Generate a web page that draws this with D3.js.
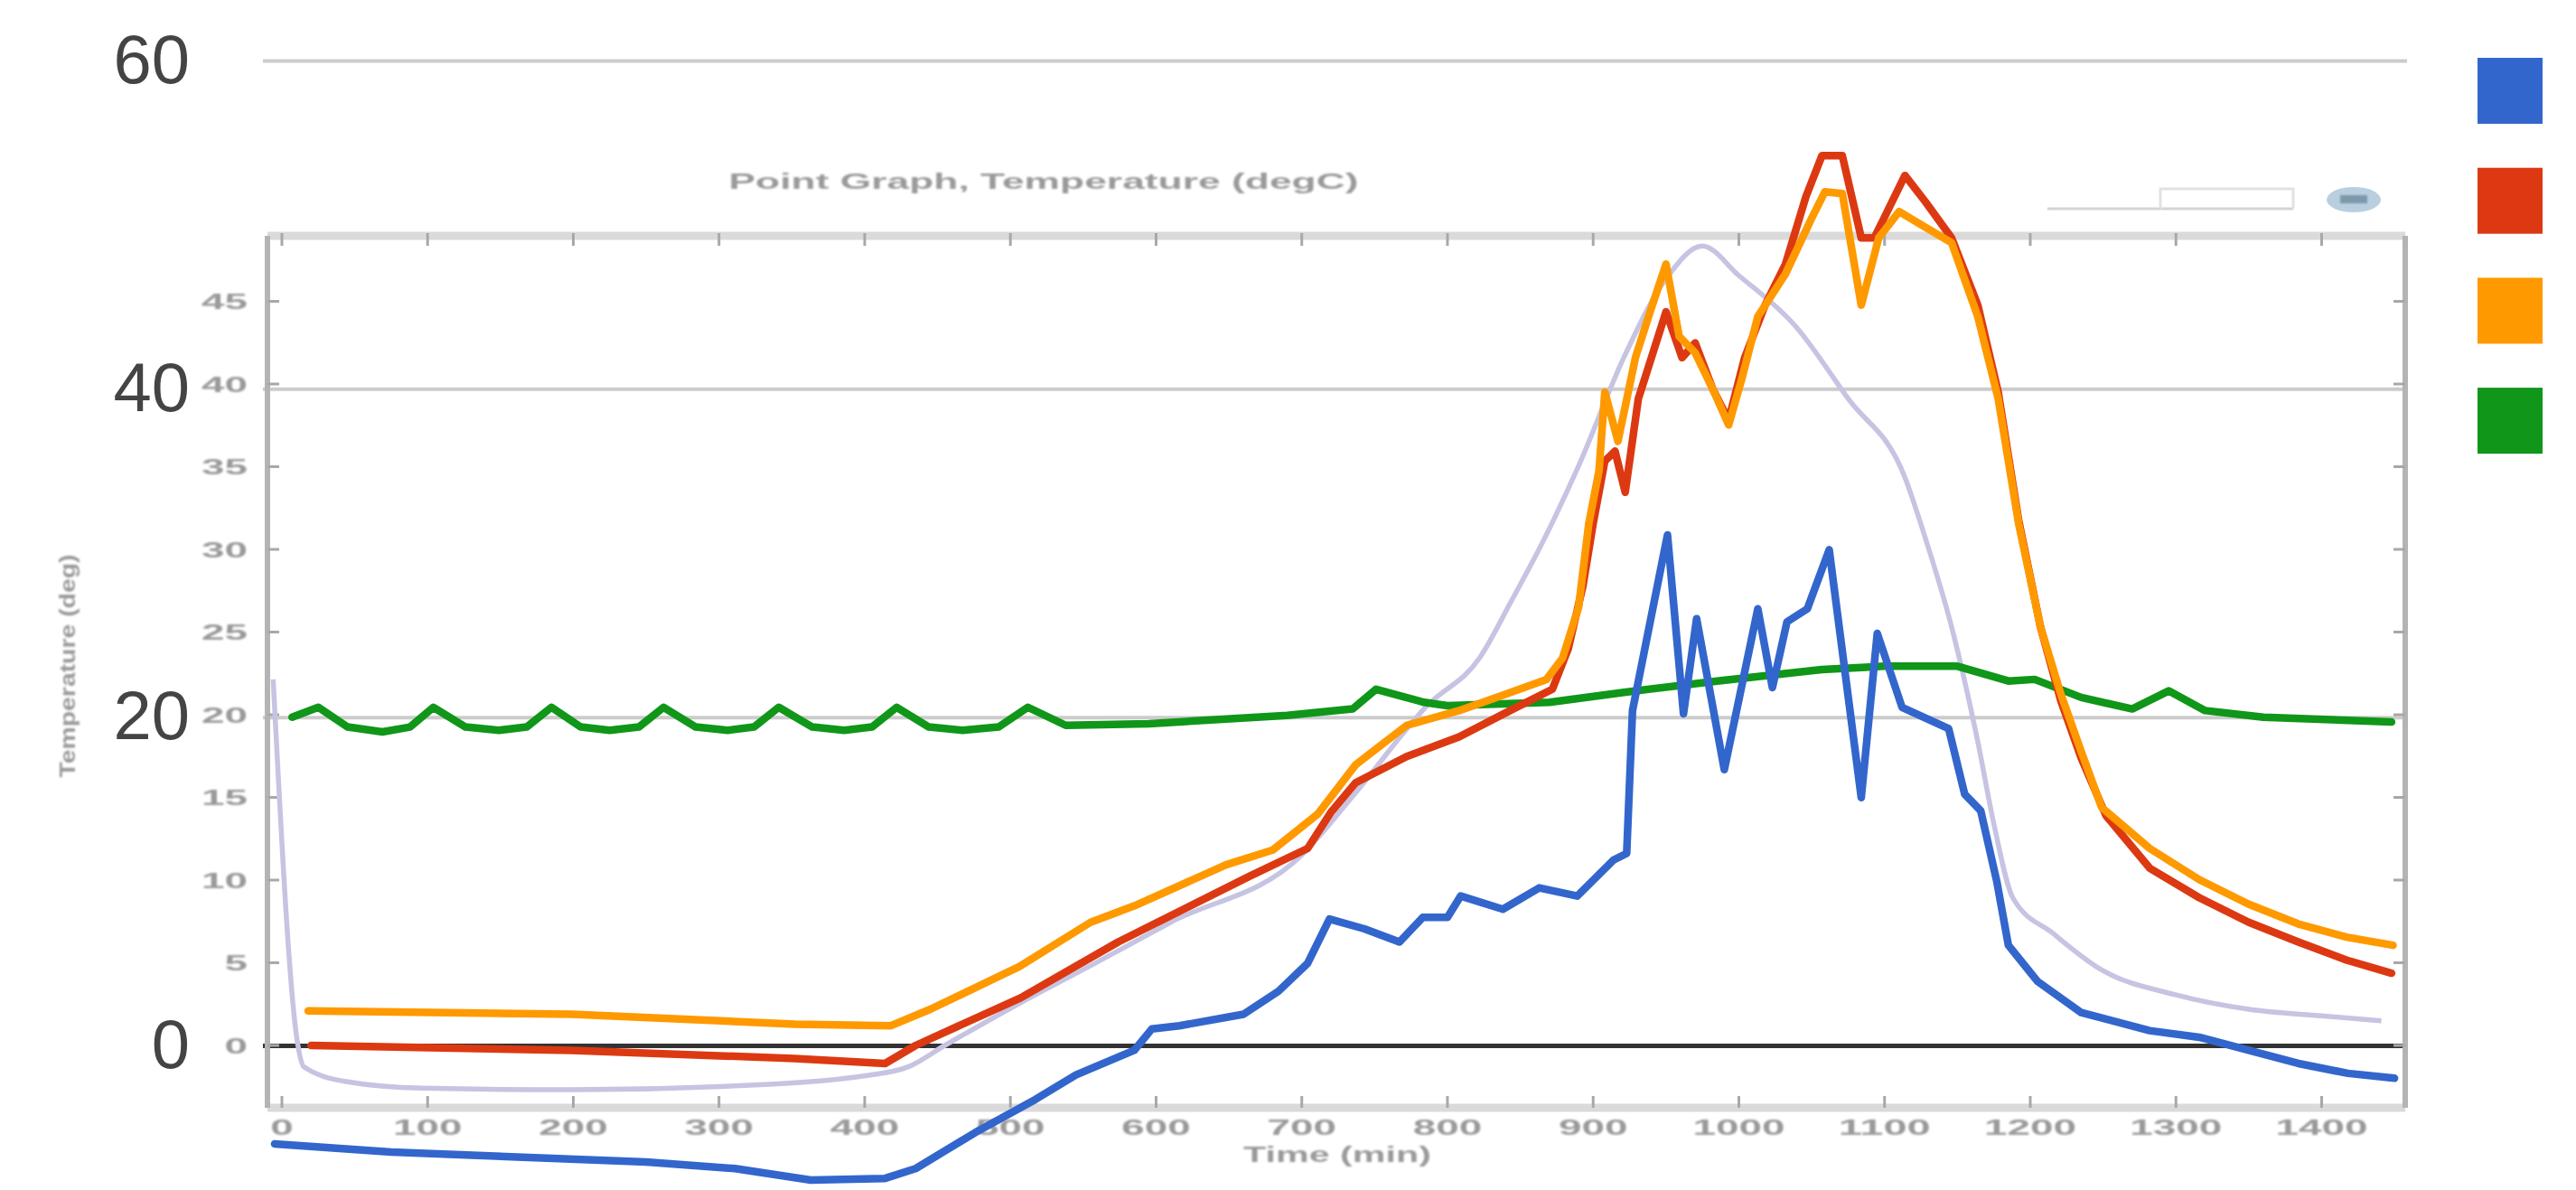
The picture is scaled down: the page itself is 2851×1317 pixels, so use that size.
<!DOCTYPE html>
<html>
<head>
<meta charset="utf-8">
<script src="https://cdn.jsdelivr.net/npm/d3@7"></script>
<style>
  body { margin: 0; background: #fff; }
  svg { display: block; }
</style>
</head>
<body>
<svg id="chart" width="2851" height="1317"></svg>
<script>
// ---- data: [time (min), temperature (deg)] ----
const outerTicks = [0, 20, 40, 60];
const innerYTicks = [0, 5, 10, 15, 20, 25, 30, 35, 40, 45];
const innerXTicks = [0, 100, 200, 300, 400, 500, 600, 700, 800, 900, 1000, 1100, 1200, 1300, 1400];
const seriesNames = ["blue", "red", "orange", "green"];
const seriesColors = ["#3366cc", "#dc3912", "#ff9900", "#109618"];

const blueSeries = [
  [-5,-6.0],[75,-6.5],[250,-7.1],[311,-7.5],[363,-8.2],[414,-8.1],[435,-7.5],[476,-5.3],
  [517,-3.3],[545,-1.8],[585,-0.3],[597,1.0],[616,1.2],[660,1.9],[684,3.3],[704,5.0],
  [719,7.7],[743,7.1],[767,6.3],[783,7.8],[800,7.8],[809,9.1],[838,8.3],[863,9.6],
  [889,9.1],[914,11.3],[923,11.7],[927,20.4],[951,31.1],[962,20.2],[971,26.0],[990,16.8],
  [1013,26.6],[1023,21.8],[1033,25.8],[1047,26.6],[1062,30.2],[1084,15.1],[1095,25.1],
  [1112,20.6],[1144,19.3],[1155,15.3],[1166,14.3],[1177,10.0],[1185,6.1],[1205,3.9],
  [1235,2.0],[1282,0.9],[1316,0.5],[1350,-0.3],[1384,-1.1],[1418,-1.7],[1450,-2.0]
];

const redSeries = [
  [20,0.0],[199,-0.3],[352,-0.8],[414,-1.1],[435,0.0],[507,2.9],[574,6.3],[664,10.3],
  [704,12.0],[720,14.2],[737,16.0],[772,17.6],[808,18.8],[843,20.4],[872,21.7],[883,24.2],
  [893,28.0],[900,31.8],[908,35.6],[915,36.2],[922,33.7],[931,39.4],[940,41.9],[950,44.7],
  [961,41.9],[970,42.8],[982,40.0],[993,38.1],[1004,41.9],[1018,45.1],[1032,47.6],
  [1046,51.7],[1057,54.2],[1071,54.2],[1084,49.2],[1093,49.2],[1114,53.0],[1128,51.4],
  [1146,49.2],[1164,45.1],[1178,39.8],[1192,32.0],[1207,25.5],[1221,21.0],[1235,17.5],
  [1252,14.0],[1282,10.8],[1316,9.0],[1350,7.5],[1384,6.3],[1417,5.2],[1448,4.4]
];

const orangeSeries = [
  [18,2.1],[199,1.9],[352,1.3],[418,1.2],[445,2.2],[506,4.8],[555,7.5],[585,8.5],
  [648,11.0],[680,11.9],[711,14.1],[737,17.1],[772,19.5],[808,20.4],[840,21.4],[868,22.3],
  [879,23.6],[890,26.7],[897,31.8],[904,35.0],[908,39.8],[917,36.8],[929,41.9],[938,44.4],
  [950,47.6],[959,43.2],[970,42.2],[982,40.0],[993,37.8],[1002,40.6],[1013,44.4],
  [1032,47.0],[1050,50.4],[1059,52.0],[1071,51.9],[1084,45.1],[1096,49.2],[1110,50.8],
  [1125,50.0],[1146,48.9],[1164,44.4],[1178,39.4],[1192,31.8],[1207,25.5],[1221,21.4],
  [1235,17.9],[1249,14.5],[1282,12.0],[1316,10.1],[1350,8.6],[1384,7.4],[1417,6.6],[1449,6.1]
];

const greenSeries = [
  [7,20.0],[25,20.6],[45,19.4],[69,19.1],[88,19.4],[104,20.6],[126,19.4],[149,19.2],
  [168,19.4],[185,20.6],[205,19.4],[225,19.2],[245,19.4],[262,20.6],[284,19.4],[306,19.2],
  [324,19.4],[341,20.6],[364,19.4],[386,19.2],[405,19.4],[422,20.6],[444,19.4],[467,19.2],
  [492,19.4],[512,20.6],[538,19.5],[595,19.6],[690,20.1],[735,20.5],[751,21.7],[784,20.9],
  [800,20.7],[870,20.9],[920,21.5],[985,22.2],[1057,22.9],[1100,23.1],[1150,23.1],
  [1185,22.2],[1203,22.3],[1235,21.2],[1270,20.5],[1295,21.6],[1320,20.4],[1360,20.0],[1448,19.7]
];

// reference curve of the embedded point graph
const lavenderSeries = [
  [-6,22.3],[11,0.0],[15,-1.3],[44,-2.2],[96,-2.6],[199,-2.7],[301,-2.5],[404,-1.8],
  [430,-1.3],[455,0.0],[507,2.6],[558,5.0],[610,7.5],[700,11.6],[737,15.4],[786,20.7],
  [822,23.6],[844,27.1],[865,30.6],[890,35.3],[921,41.9],[950,46.7],[975,48.7],[1000,46.9],
  [1039,43.8],[1075,39.4],[1114,34.6],[1128,30.9],[1146,25.5],[1164,18.5],[1175,13.5],
  [1188,9.0],[1216,6.8],[1249,4.6],[1299,3.1],[1350,2.2],[1400,1.8],[1441,1.5]
];

// ---- layout ----
const svg = d3.select("#chart");
const plotLeft = 291, plotRight = 2664;
const frame = { left: 296, right: 2662, top: 261, bottom: 1226 };

const x = d3.scaleLinear().domain([0, 1400]).range([312, 2569.5]);
const y = d3.scaleLinear().domain([0, 60]).range([1157, 67]);
const yInner = d3.scaleLinear().domain([0, 45]).range([1157, 333.5]);

svg.append("rect").attr("width", 2851).attr("height", 1317).attr("fill", "#fff");

const defs = svg.append("defs");
defs.append("filter").attr("id", "soft")
  .attr("x", "-10%").attr("y", "-30%").attr("width", "120%").attr("height", "160%")
  .append("feGaussianBlur").attr("stdDeviation", 1.1);

// ---- outer value axis with gridlines ----
const outerAxis = svg.append("g")
  .attr("transform", `translate(${plotLeft},0)`)
  .call(d3.axisLeft(y).tickValues(outerTicks)
    .tickSize(-(plotRight - plotLeft)).tickPadding(81).tickFormat(d3.format("d")));
outerAxis.select(".domain").remove();
outerAxis.selectAll(".tick line")
  .attr("stroke", d => d === 0 ? "#333" : "#cccccc")
  .attr("stroke-width", d => d === 0 ? 5 : 4);
outerAxis.selectAll(".tick text")
  .attr("font-family", "'Liberation Sans', Arial, sans-serif")
  .attr("font-size", 76)
  .attr("fill", "#444");

// ---- embedded point graph: frame, ticks, labels ----
const inner = svg.append("g");
inner.append("line").attr("x1", frame.left).attr("x2", frame.right)
  .attr("y1", frame.top).attr("y2", frame.top)
  .attr("stroke", "#dadada").attr("stroke-width", 9);
inner.append("line").attr("x1", frame.left).attr("x2", frame.right)
  .attr("y1", frame.bottom).attr("y2", frame.bottom)
  .attr("stroke", "#dadada").attr("stroke-width", 9);
inner.append("line").attr("x1", frame.left).attr("x2", frame.left)
  .attr("y1", frame.top).attr("y2", frame.bottom)
  .attr("stroke", "#b4b4b4").attr("stroke-width", 6);
inner.append("line").attr("x1", frame.right).attr("x2", frame.right)
  .attr("y1", frame.top).attr("y2", frame.bottom)
  .attr("stroke", "#b4b4b4").attr("stroke-width", 6);

// tick marks on all four sides
inner.selectAll(".tt").data(innerXTicks).join("line")
  .attr("x1", d => x(d)).attr("x2", d => x(d))
  .attr("y1", frame.top - 3).attr("y2", frame.top + 11)
  .attr("stroke", "#a8a8a8").attr("stroke-width", 3);
inner.selectAll(".bt").data(innerXTicks).join("line")
  .attr("x1", d => x(d)).attr("x2", d => x(d))
  .attr("y1", frame.bottom - 13).attr("y2", frame.bottom)
  .attr("stroke", "#a8a8a8").attr("stroke-width", 3);
inner.selectAll(".lt").data(innerYTicks).join("line")
  .attr("x1", frame.left).attr("x2", frame.left + 13)
  .attr("y1", d => yInner(d)).attr("y2", d => yInner(d))
  .attr("stroke", "#a8a8a8").attr("stroke-width", 3);
inner.selectAll(".rt").data(innerYTicks).join("line")
  .attr("x1", frame.right - 13).attr("x2", frame.right)
  .attr("y1", d => yInner(d)).attr("y2", d => yInner(d))
  .attr("stroke", "#a8a8a8").attr("stroke-width", 3);

const innerText = inner.append("g")
  .attr("font-family", "'Liberation Sans', Arial, sans-serif")
  .attr("font-weight", "bold")
  .attr("font-size", 24)
  .attr("fill", "#9a9a9a")
  .attr("filter", "url(#soft)");

const digitW = 25.5;
innerText.selectAll(".yl").data(innerYTicks).join("text")
  .attr("x", 274).attr("y", d => yInner(d))
  .attr("text-anchor", "end").attr("dominant-baseline", "central")
  .attr("textLength", d => String(d).length * digitW)
  .attr("lengthAdjust", "spacingAndGlyphs")
  .text(d => d);

innerText.selectAll(".xl").data(innerXTicks).join("text")
  .attr("x", d => x(d)).attr("y", 1247)
  .attr("text-anchor", "middle").attr("dominant-baseline", "central")
  .attr("textLength", d => String(d).length * digitW)
  .attr("lengthAdjust", "spacingAndGlyphs")
  .text(d => d);

innerText.append("text")
  .attr("x", 1155).attr("y", 200)
  .attr("text-anchor", "middle").attr("dominant-baseline", "central")
  .attr("textLength", 697).attr("lengthAdjust", "spacingAndGlyphs")
  .text("Point Graph, Temperature (degC)");

innerText.append("text")
  .attr("x", 1480).attr("y", 1277)
  .attr("text-anchor", "middle").attr("dominant-baseline", "central")
  .attr("textLength", 208).attr("lengthAdjust", "spacingAndGlyphs")
  .text("Time (min)");

innerText.append("text")
  .attr("transform", "translate(74,737) rotate(-90)")
  .attr("text-anchor", "middle").attr("dominant-baseline", "central")
  .attr("textLength", 247).attr("lengthAdjust", "spacingAndGlyphs")
  .text("Temperature (deg)");

// small key of the point graph
inner.append("line").attr("x1", 2266).attr("x2", 2538).attr("y1", 231).attr("y2", 231)
  .attr("stroke", "#d4d4d4").attr("stroke-width", 3);
inner.append("path").attr("d", "M2391,231 V209 H2538 V231")
  .attr("fill", "none").attr("stroke", "#e2e2e2").attr("stroke-width", 3);
inner.append("ellipse").attr("cx", 2605).attr("cy", 221).attr("rx", 30).attr("ry", 14)
  .attr("fill", "#b9cfdf");
inner.append("rect").attr("x", 2590).attr("y", 216).attr("width", 30).attr("height", 9)
  .attr("fill", "#7d97ab").attr("filter", "url(#soft)");

// ---- lines ----
const line = d3.line().x(d => x(d[0])).y(d => y(d[1]));
const smooth = d3.line().x(d => x(d[0])).y(d => y(d[1])).curve(d3.curveMonotoneX);

svg.append("path").datum(lavenderSeries)
  .attr("d", smooth).attr("fill", "none")
  .attr("stroke", "#c6c4e2").attr("stroke-width", 5.5)
  .attr("stroke-linejoin", "round");

const drawOrder = [
  { data: greenSeries, color: seriesColors[3] },
  { data: blueSeries, color: seriesColors[0] },
  { data: redSeries, color: seriesColors[1] },
  { data: orangeSeries, color: seriesColors[2] }
];
svg.append("g").selectAll("path").data(drawOrder).join("path")
  .attr("d", d => line(d.data))
  .attr("fill", "none")
  .attr("stroke", d => d.color)
  .attr("stroke-width", 8.5)
  .attr("stroke-linejoin", "round")
  .attr("stroke-linecap", "round");

// ---- legend swatches ----
svg.append("g").selectAll("rect").data(seriesNames).join("rect")
  .attr("x", 2742)
  .attr("y", (d, i) => 64 + i * 121.7)
  .attr("width", 72).attr("height", 73)
  .attr("fill", (d, i) => seriesColors[i]);
</script>
</body>
</html>
